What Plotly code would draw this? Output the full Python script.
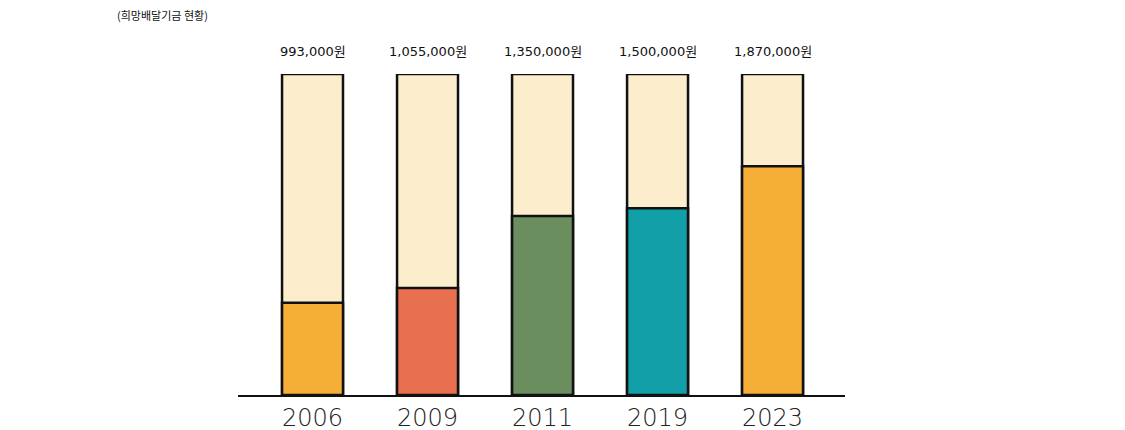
import plotly.graph_objects as go

years = ["2006", "2009", "2011", "2019", "2023"]
amount_labels = ["993,000원", "1,055,000원", "1,350,000원", "1,500,000원", "1,870,000원"]
fill_pct = [28.7, 33.3, 55.8, 58.2, 71.3]
full_pct = [100, 100, 100, 100, 100]
fill_colors = ["#F5AF36", "#E87051", "#6A8E5E", "#139FA7", "#F5AF36"]
bg_color = "#FCEECD"

OFF = 8  # page body margin

fig = go.Figure()
fig.add_trace(go.Bar(
    x=years, y=full_pct, width=0.53,
    marker=dict(color=bg_color, line=dict(color="#111111", width=2.5)),
    hoverinfo="skip", showlegend=False,
))
fig.add_trace(go.Bar(
    x=years, y=fill_pct, width=0.53,
    marker=dict(color=fill_colors, line=dict(color="#111111", width=2.5)),
    showlegend=False,
))

for i, lab in enumerate(amount_labels):
    fig.add_annotation(x=i, y=100, xref="x", yref="y", text=lab, showarrow=False,
                       yanchor="middle", yshift=23,
                       font=dict(family="DejaVu Sans, Noto Sans CJK KR, sans-serif", size=13, color="#111111"))

fig.update_layout(
    width=1125, height=430,
    margin=dict(l=238 - OFF, r=280 + OFF, t=74 - OFF, b=35 + OFF, autoexpand=False),
    paper_bgcolor="white", plot_bgcolor="white",
    barmode="overlay",
    title=dict(text="(희망배달기금 현황)", x=(117 - OFF) / 1125, xref="container", xanchor="left",
               y=1 - (16 - OFF) / 430, yref="container", yanchor="middle",
               font=dict(family="Noto Sans CJK KR, sans-serif", size=11, color="#111111")),
    xaxis=dict(type="category", range=[-0.648, 4.63], showline=True, linecolor="#111111", linewidth=2,
               showgrid=False, zeroline=False, ticks="", ticklabelstandoff=0, automargin=False,
               tickfont=dict(family="DejaVu Sans, sans-serif", size=24, color="#222222", weight=200)),
    yaxis=dict(range=[0, 100], visible=False, showgrid=False, automargin=False),
)

fig.write_html("out.html")
